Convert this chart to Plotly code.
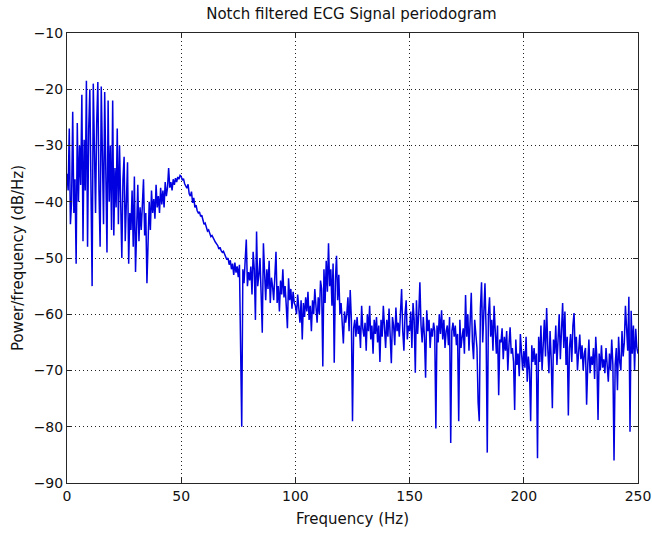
import plotly.graph_objects as go

freq_start = 0
freq_step = 0.5

psd_db = [
    -35, -38, -27, -44, -40, -24, -42, -36, -51, -26,              # 0 - 4.5 Hz
    -40, -30, -37, -21, -47, -29, -38, -18.5, -48, -27,            # 5
    -20, -36, -55, -19, -33, -42, -26, -18.7, -38, -48,            # 10
    -19.5, -35, -44, -20.5, -32, -49, -22, -40, -30, -45,          # 15
    -22, -46, -34, -41, -27, -44, -30, -38, -50, -36,              # 20
    -32, -47, -40, -33, -51, -42, -45, -38, -48, -35.5,            # 25
    -52.5, -43, -37, -47, -41, -45, -39, -36, -46, -42,            # 30
    -54.5, -44, -40, -45, -38, -42, -39.5, -43, -37, -41,          # 35
    -39, -42, -37.5, -40.5, -38, -41, -36.5, -39, -37.5, -34,      # 40
    -37.5, -36.5, -38, -36, -37, -35.8, -36.5, -35.6, -36, -35.3,  # 45
    -35.5, -36.2, -35.9, -36.8, -37.2, -37.6, -36.9, -38.6, -39, -38.2,  # 50
    -40.2, -39.3, -41, -40.6, -41.6, -42, -41.8, -42.6, -42.4, -43.3,    # 55
    -44, -43.8, -44.6, -45.2, -45, -45.6, -46.2, -46, -46.5, -47,        # 60
    -47.2, -47.5, -47.8, -48.4, -48.1, -48.7, -49, -48.8, -49.4, -49.9,  # 65
    -50.3, -50, -51.2, -50.4, -52, -51, -53, -50.8, -52.6, -51.5,        # 70
    -53.4, -51.2, -65, -80, -52, -54.5, -50.5, -46.7, -55, -52.5,        # 75
    -54, -51.5, -56.5, -48.9, -52, -61, -45.3, -55, -53, -50,            # 80
    -56.5, -63.3, -47.4, -54, -57.5, -52, -55.5, -50.5, -58, -53.5,      # 85
    -55, -57.5, -53, -48.9, -58, -55, -59.5, -54, -56.5, -52,            # 90
    -57, -55, -58.5, -62.5, -53.6, -57.5, -55.5, -59, -56, -58,          # 95
    -58.5, -60, -56.5, -59, -61.5, -57.5, -64.5, -58, -60.5, -57,        # 100
    -59.5, -56, -61, -58.5, -63, -57.5, -60, -55.5, -59, -61.5,          # 105
    -57, -60, -54, -55.5, -69.3, -52, -58, -50.5, -56, -47.4,            # 110
    -55, -52, -58.5, -51, -68.6, -54, -49.6, -57.5, -53, -60,            # 115
    -58, -62, -65.2, -59.5, -61.5, -60, -57, -63, -55.7, -61,            # 120
    -79, -62.5, -61, -64, -60.5, -63.5, -62, -66, -58.5, -62.5,          # 125
    -64, -61.5, -66.5, -60, -63, -58.5, -64.5, -62, -67, -61,            # 130
    -63.5, -60.5, -65, -62, -68.5, -61, -64, -58.5, -62.5, -66,          # 135
    -61, -64, -59, -63.5, -68.7, -60.5, -62, -65.5, -58.8, -63,          # 140
    -61.5, -64, -59.5, -55.5, -63, -66.5, -60, -57.5, -64.5, -62,        # 145
    -63, -59.5, -66, -58, -61, -70.4, -57.5, -63.5, -60, -54.3,          # 150
    -62, -65, -60.5, -64, -71.3, -59.3, -63, -61, -66, -62.5,            # 155
    -64, -61.5, -63, -80.3, -62, -65, -60, -63.5, -59.3, -64.5,          # 160
    -61, -66, -63, -62, -65.5, -60.5, -82.9, -63, -61.5, -64,            # 165
    -62, -65.5, -63.5, -79, -61, -66, -64, -62.5, -67, -56.6,            # 170
    -64, -60, -66.5, -62, -56.2, -65, -68, -61, -63.5, -66,              # 175
    -75.7, -79, -59, -54.3, -65, -61, -54.5, -63, -84.6, -60,            # 180
    -57, -64, -61, -66.5, -58.5, -63, -67, -62, -74.4, -64.5,            # 185
    -65, -62.5, -68, -64, -66.5, -63, -70, -65.5, -62.3, -67,            # 190
    -66, -68.5, -77, -64.5, -69, -67, -71, -63.5, -68, -70,              # 195
    -66.5, -69.5, -64, -72, -67.5, -70, -79, -65.5, -68.5, -66,          # 200
    -69, -67, -85.6, -64, -68.5, -62, -70, -66, -61, -67.5,              # 205
    -58.9, -66, -70.5, -63, -68, -76.7, -64.5, -67, -62, -69,            # 210
    -65, -60, -68, -62.5, -58, -66, -59.5, -69, -64, -78,                # 215
    -66, -63.5, -68.5, -62, -59.8, -67, -64, -70, -65.5, -63.6,          # 220
    -68, -65.5, -70, -67, -66, -76.1, -69, -64.5, -70.5, -67.5,          # 225
    -69, -66, -71.5, -64, -68, -78.8, -67, -70, -65.5, -69.5,            # 230
    -68, -70.5, -66, -69, -72, -67, -70, -64.5, -69, -86,                # 235
    -69, -66, -73.5, -64, -68.5, -70, -63, -67.5, -65, -58.5,            # 240
    -64, -66.5, -56.9, -80.9, -59.4, -67, -62, -70, -62.6, -66,          # 245
    -67,                                                                 # 250
]

x_ticks = [0, 50, 100, 150, 200, 250]
y_ticks = [-90, -80, -70, -60, -50, -40, -30, -20, -10]

fig = go.Figure()
fig.add_trace(go.Scatter(
    x0=freq_start, dx=freq_step, y=psd_db,
    mode="lines",
    line=dict(color="#0000e0", width=1.5),
    showlegend=False,
))

axis_style = dict(
    showline=True, linecolor="#262626", linewidth=1, mirror="ticks",
    ticks="inside", ticklen=5, tickcolor="#262626",
    showgrid=True, gridcolor="#202020", gridwidth=1, griddash="1px,3px",
    zeroline=False, automargin=False,
    tickfont=dict(family="DejaVu Sans", size=14, color="#111"),
)

fig.update_xaxes(axis_style, range=[0, 250], tickvals=x_ticks,
                 title=dict(text="Frequency (Hz)", standoff=10,
                            font=dict(family="DejaVu Sans", size=15, color="#111")))
fig.update_yaxes(axis_style, range=[-90, -10], tickvals=y_ticks,
                 title=dict(text="Power/frequency (dB/Hz)", standoff=6,
                            font=dict(family="DejaVu Sans", size=15, color="#111")))

fig.update_layout(
    width=652, height=533,
    margin=dict(l=67, r=14, t=33, b=50),
    paper_bgcolor="white", plot_bgcolor="white",
    title=dict(text="Notch filtered ECG Signal periodogram",
               x=0.539, xanchor="center", y=0.974, yanchor="middle",
               font=dict(family="DejaVu Sans", size=15, color="#111")),
)

# drop the browser's default body margin so the figure fills the window
fig.write_html("out.html",
               config={"displayModeBar": False},
               post_script="document.body.style.margin='0';"
                           "document.body.style.overflow='hidden';")
